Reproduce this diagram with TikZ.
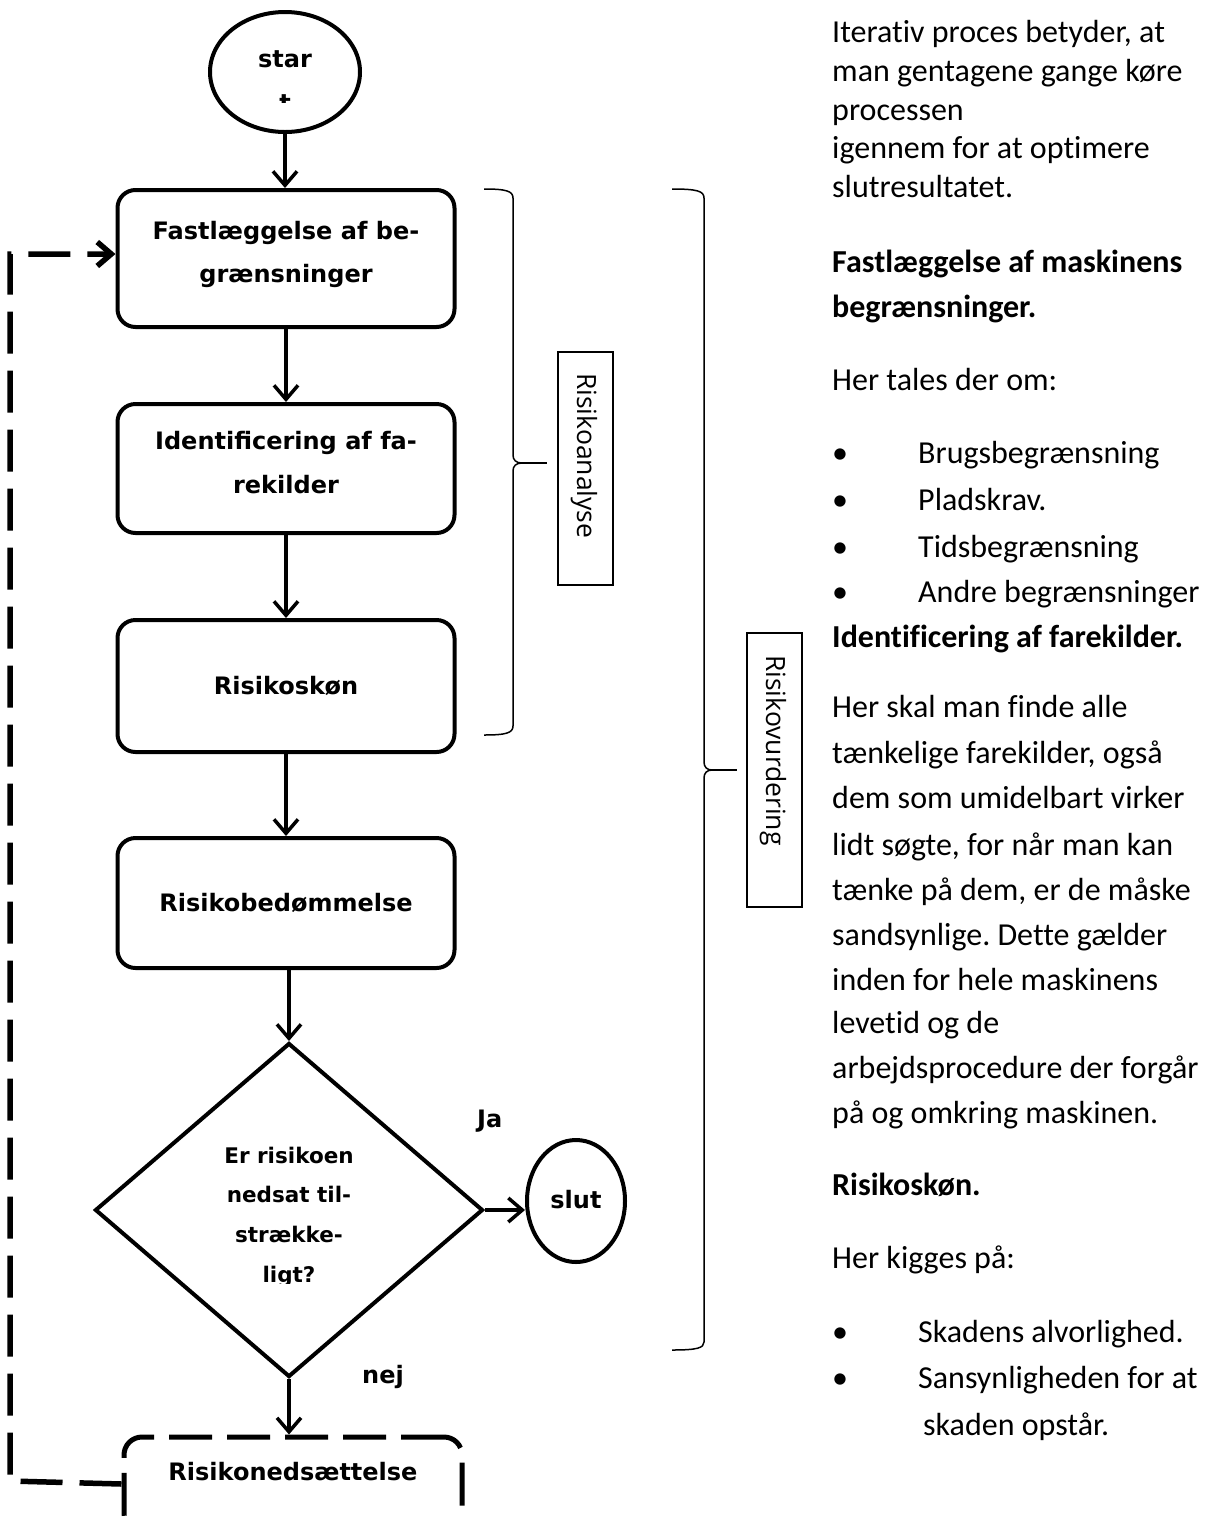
\documentclass[tikz,border=0pt]{standalone}
\usepackage{fontspec}
\setmainfont{Carlito}[Ligatures={NoCommon,NoRare}]
\newfontfamily\flowfont{DejaVu Sans}
\newfontfamily\labfont{Open Sans}
\usetikzlibrary{arrows.meta,shapes.geometric}
\frenchspacing
\tikzset{
  fbox/.style={draw, line width=4pt, rounded corners=18pt, minimum width=337pt, inner sep=0pt},
  oval/.style={draw, ellipse, line width=4pt, inner sep=0pt},
  ftext/.style={font=\flowfont\bfseries\fontsize{24}{28}\selectfont, anchor=base, inner sep=0pt},
  dtext/.style={font=\flowfont\bfseries\fontsize{21.5}{25}\selectfont, anchor=base, inner sep=0pt},
  flow/.style={line width=3.5pt, -{Straight Barb[length=14pt,width=24pt]}},
  fb/.style={line width=5.5pt, dash pattern=on 42pt off 17pt, -{Straight Barb[length=14pt,width=24pt]}},
  brace/.style={line width=1.5pt},
  tag/.style={draw, line width=1.5pt, inner sep=0pt},
  tagtext/.style={font=\labfont\fontsize{26.5}{30}\selectfont, rotate=-90, anchor=base west, inner sep=0pt},
  body/.style={anchor=base west, inner sep=0pt, font=\fontsize{32}{38}\selectfont},
  bodyb/.style={anchor=base west, inner sep=0pt, font=\bfseries\fontsize{32}{38}\selectfont},
}
\begin{document}
\begin{tikzpicture}[x=1pt,y=-1pt]
\useasboundingbox (0,0) rectangle (1211,1519);
\clip (0,0) rectangle (1211,1519);

% ---- flowchart shapes
\node[oval, minimum width=150pt, minimum height=120pt] (start) at (285,72) {};
\node[fbox, minimum height=137pt] (b1) at (286,258.5) {};
\node[fbox, minimum height=129pt] (b2) at (286,468.5) {};
\node[fbox, minimum height=132pt] (b3) at (286,686) {};
\node[fbox, minimum height=130pt] (b4) at (286,903) {};
\node[draw, diamond, line width=4pt, minimum width=388pt, minimum height=334pt, inner sep=0pt] (dec) at (289,1210) {};
\node[oval, minimum width=98pt, minimum height=122pt] (slut) at (576,1201) {};
\node[draw, line width=5pt, rounded corners=18pt, dash pattern=on 43pt off 15pt, minimum width=338pt, minimum height=94pt, inner sep=0pt] (b5) at (293,1484) {};

% ---- flowchart texts
\node[ftext] (tstar) at (285,67) {star};
\begin{scope}
  \clip (255,80) rectangle (315,102);
  \node[ftext] (tt) at (285,111) {t};
\end{scope}
\node[ftext] (t1a) at (286,239) {Fastlæggelse af be-};
\node[ftext] (t1b) at (286,282) {grænsninger};
\node[ftext] (t2a) at (286,449) {Identificering af fa-};
\node[ftext] (t2b) at (286,493) {rekilder};
\node[ftext] (t3) at (286,694) {Risikoskøn};
\node[ftext] (t4) at (286,911) {Risikobedømmelse};
\node[dtext] (d1) at (289,1163) {Er risikoen};
\node[dtext] (d2) at (289,1202) {nedsat til-};
\node[dtext] (d3) at (289,1242) {strække-};
\begin{scope}
  \clip (200,1250) rectangle (380,1283);
  \node[dtext] (d4) at (289,1282) {ligt?};
\end{scope}
\node[ftext] (tslut) at (576,1208) {slut};
\node[ftext] (t5) at (293,1480) {Risikonedsættelse};
\node[ftext, anchor=base west] (ja) at (477,1127) {Ja};
\node[ftext] (nej) at (383,1383) {nej};

% ---- connectors
\draw[flow] (start.south) -- (start.south |- b1.north);
\draw[flow] (b1) -- (b2);
\draw[flow] (b2) -- (b3);
\draw[flow] (b3) -- (b4);
\draw[flow] (dec.north |- b4.south) -- (dec.north);
\draw[flow] (dec.east) -- (dec.east -| slut.west);
\draw[flow] (dec.south) -- (dec.south |- b5.north);
\coordinate (fbB) at (10,1481);
\coordinate (fbT) at (10,254);
\draw[fb] (b5.west) -- (fbB) -- (fbT) -- (fbT -| b1.west);

% ---- braces and tags
\draw[brace] (484,189) .. controls (506,189) and (513,191) .. (513,198) -- (513,455)
  .. controls (513,460) and (516,463) .. (522,463)
  .. controls (516,463) and (513,466) .. (513,471) -- (513,726)
  .. controls (513,733) and (506,735) .. (484,735);
\draw[brace] (522,463) -- (547,463);
\draw[brace] (672,189) .. controls (697,189) and (704,191) .. (704,198) -- (704,762)
  .. controls (704,767) and (707,770) .. (712,770)
  .. controls (707,770) and (704,773) .. (704,778) -- (704,1342)
  .. controls (704,1348) and (697,1350) .. (672,1350);
\draw[brace] (712,770) -- (737,770);
\node[tag, minimum width=55pt, minimum height=233pt] (tagA) at (585.5,468.5) {};
\node[tagtext] (tagAt) at (577,373) {Risikoanalyse};
\node[tag, minimum width=55pt, minimum height=274pt] (tagB) at (774.5,770) {};
\node[tagtext] (tagBt) at (766,655) {Risikovurdering};

% ---- right column text
\node[body] (r1) at (832,42) {Iterativ proces betyder, at};
\node[body] (r2) at (832,81) {man gentagene gange køre};
\node[body] (r3) at (832,120) {processen};
\node[body] (r4) at (832,158) {igennem for at optimere};
\node[body] (r5) at (832,197) {slutresultatet.};
\node[bodyb] (r6) at (832,272) {Fastlæggelse af maskinens};
\node[bodyb] (r7) at (832,317) {begrænsninger.};
\node[body] (r8) at (832,390) {Her tales der om:};
\node[body] (k1) at (832,463) {•};
\node[body] (r9) at (918,463) {Brugsbegrænsning};
\node[body] (k2) at (832,510) {•};
\node[body] (r10) at (918,510) {Pladskrav.};
\node[body] (k3) at (832,557) {•};
\node[body] (r11) at (918,557) {Tidsbegrænsning};
\node[body] (k4) at (832,602) {•};
\node[body] (r12) at (918,602) {Andre begrænsninger};
\node[bodyb] (r13) at (832,647) {Identificering af farekilder.};
\node[body] (r14) at (832,717) {Her skal man finde alle};
\node[body] (r15) at (832,763) {tænkelige farekilder, også};
\node[body] (r16) at (832,808) {dem som umidelbart virker};
\node[body] (r17) at (832,855) {lidt søgte, for når man kan};
\node[body] (r18) at (832,900) {tænke på dem, er de måske};
\node[body] (r19) at (832,945) {sandsynlige. Dette gælder};
\node[body] (r20) at (832,990) {inden for hele maskinens};
\node[body] (r21) at (832,1033) {levetid og de};
\node[body] (r22) at (832,1078) {arbejdsprocedure der forgår};
\node[body] (r23) at (832,1123) {på og omkring maskinen.};
\node[bodyb] (r24) at (832,1195) {Risikoskøn.};
\node[body] (r25) at (832,1268) {Her kigges på:};
\node[body] (k5) at (832,1342) {•};
\node[body] (r26) at (918,1342) {Skadens alvorlighed.};
\node[body] (k6) at (832,1388) {•};
\node[body] (r27) at (918,1388) {Sansynligheden for at};
\node[body] (r28) at (923,1435) {skaden opstår.};
\end{tikzpicture}
\end{document}
